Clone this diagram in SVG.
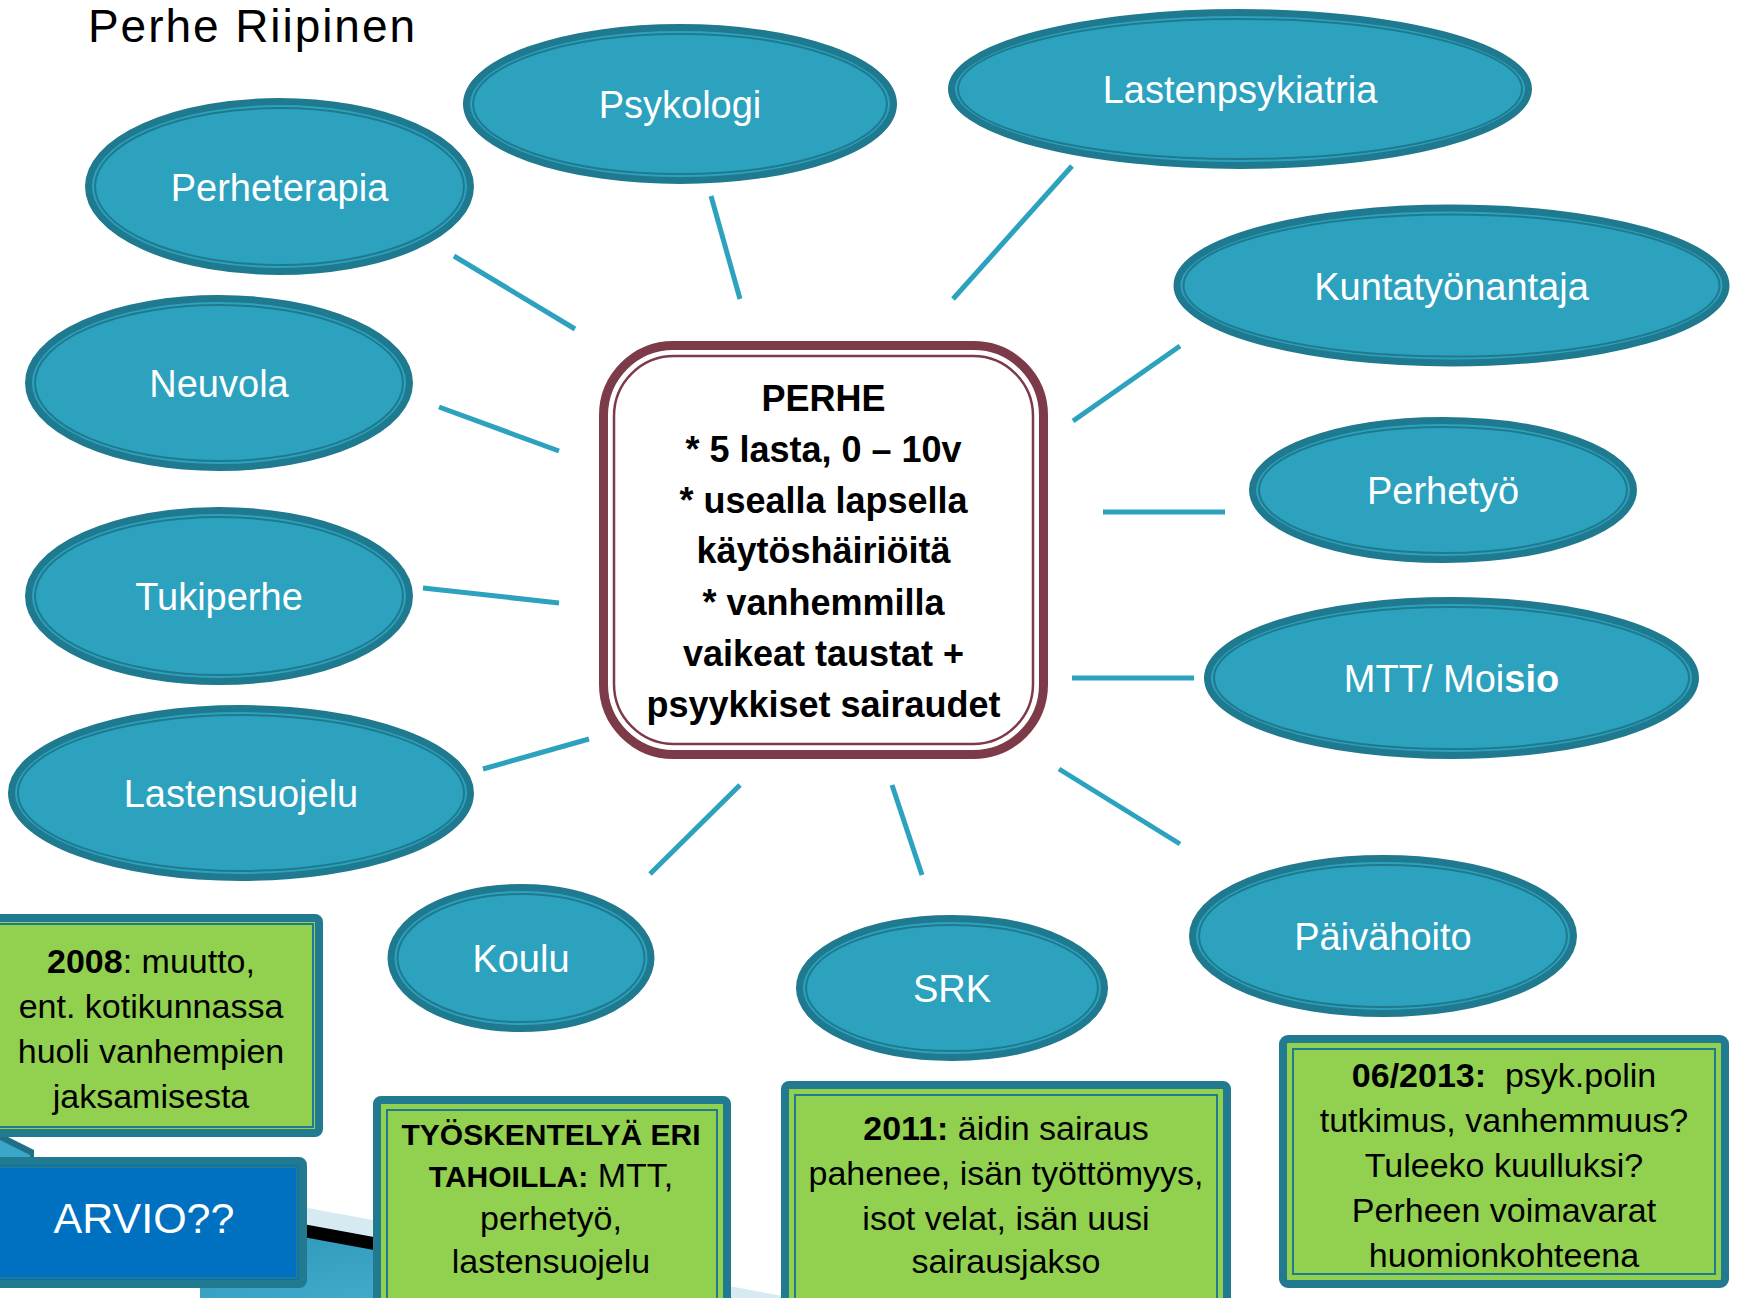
<svg xmlns="http://www.w3.org/2000/svg" width="1737" height="1298" viewBox="0 0 1737 1298">
<defs>
<style>
.eo{fill:#2ca2bf;stroke:#1f7a8f;stroke-width:7}
.ei{fill:none;stroke:#1f7a8f;stroke-width:2}
.el{font-family:"Liberation Sans",Arial,sans-serif;font-size:38px;fill:#ffffff;text-anchor:middle}
.con line{stroke:#2ca2bf;stroke-width:5;stroke-linecap:butt}
.gb{fill:#92d050;stroke:#217a90;stroke-width:8}
.gi{fill:none;stroke:#217a90;stroke-width:2}
.gt{font-family:"Liberation Sans",Arial,sans-serif;font-size:34px;fill:#000000;text-anchor:middle}
.b{font-weight:bold}
.ct{font-family:"Liberation Sans",Arial,sans-serif;font-size:36px;font-weight:bold;fill:#000000;text-anchor:middle}
</style>
<linearGradient id="swoosh" x1="0" y1="0" x2="1" y2="1">
<stop offset="0" stop-color="#2b93b8"/>
<stop offset="1" stop-color="#5ac2df"/>
</linearGradient>
</defs>
<rect x="0" y="0" width="1737" height="1298" fill="#ffffff"/>

<g id="decoration">
<polygon points="200,1188 820,1303 820,1310 200,1310" fill="#d6eaf1"/>
<polygon points="200,1205 820,1319 820,1330 200,1330" fill="#000000"/>
<polygon points="200,1218 820,1332 820,1340 200,1340" fill="url(#swoosh)"/>
<polygon points="0,1133 34,1150 34,1162 0,1162" fill="#1f6f86"/>
<polygon points="0,1140 30,1155 30,1162 0,1162" fill="#3aa6c8"/>
</g>

<text id="title" x="88" y="42" font-family="Liberation Sans, Arial, sans-serif" font-size="46" textLength="327" fill="#000000">Perhe Riipinen</text>

<g id="connectors" class="con">
<line x1="454" y1="256" x2="575" y2="329"/>
<line x1="711" y1="196" x2="740" y2="299"/>
<line x1="1072" y1="166" x2="953" y2="299"/>
<line x1="1180" y1="346" x2="1073" y2="421"/>
<line x1="439" y1="407" x2="559" y2="451"/>
<line x1="1103" y1="512" x2="1225" y2="512"/>
<line x1="423" y1="588" x2="559" y2="603"/>
<line x1="1072" y1="678" x2="1194" y2="678"/>
<line x1="483" y1="769" x2="589" y2="739"/>
<line x1="740" y1="785" x2="650" y2="874"/>
<line x1="892" y1="785" x2="922" y2="875"/>
<line x1="1059" y1="769" x2="1180" y2="844"/>
</g>

<g id="perhe">
<rect x="603.5" y="345.5" width="440" height="409" rx="70" fill="#ffffff" stroke="#7d3b49" stroke-width="9"/>
<rect x="614" y="356" width="419" height="388" rx="60" fill="none" stroke="#7d3b49" stroke-width="2.5"/>
<text class="ct" x="823.5" y="411">PERHE</text>
<text class="ct" x="823.5" y="462">* 5 lasta, 0 – 10v</text>
<text class="ct" x="823.5" y="513">* usealla lapsella</text>
<text class="ct" x="823.5" y="563">käytöshäiriöitä</text>
<text class="ct" x="823.5" y="615">* vanhemmilla</text>
<text class="ct" x="823.5" y="666">vaikeat taustat +</text>
<text class="ct" x="823.5" y="717">psyykkiset sairaudet</text>
</g>

<g id="psykologi">
<ellipse class="eo" cx="680" cy="104" rx="213.5" ry="76.5"/>
<ellipse class="ei" cx="680" cy="104" rx="207" ry="70"/>
<text class="el" x="680" y="118">Psykologi</text>
</g>
<g id="lastenpsykiatria">
<ellipse class="eo" cx="1240" cy="89" rx="288.5" ry="76.5"/>
<ellipse class="ei" cx="1240" cy="89" rx="282" ry="70"/>
<text class="el" x="1240" y="103">Lastenpsykiatria</text>
</g>
<g id="perheterapia">
<ellipse class="eo" cx="279.5" cy="186.5" rx="191" ry="85"/>
<ellipse class="ei" cx="279.5" cy="186.5" rx="184.5" ry="78.5"/>
<text class="el" x="279.5" y="200.5">Perheterapia</text>
</g>
<g id="kuntatyonantaja">
<ellipse class="eo" cx="1451.5" cy="285.5" rx="274.5" ry="77.5"/>
<ellipse class="ei" cx="1451.5" cy="285.5" rx="268" ry="71"/>
<text class="el" x="1451.5" y="300">Kuntatyönantaja</text>
</g>
<g id="neuvola">
<ellipse class="eo" cx="219" cy="383" rx="190.5" ry="84.5"/>
<ellipse class="ei" cx="219" cy="383" rx="184" ry="78"/>
<text class="el" x="219" y="397">Neuvola</text>
</g>
<g id="perhetyo">
<ellipse class="eo" cx="1443" cy="490" rx="190.5" ry="69.5"/>
<ellipse class="ei" cx="1443" cy="490" rx="184" ry="63"/>
<text class="el" x="1443" y="504">Perhetyö</text>
</g>
<g id="tukiperhe">
<ellipse class="eo" cx="219" cy="596" rx="190.5" ry="85.5"/>
<ellipse class="ei" cx="219" cy="596" rx="184" ry="79"/>
<text class="el" x="219" y="610">Tukiperhe</text>
</g>
<g id="mtt-moisio">
<ellipse class="eo" cx="1451.5" cy="678" rx="244" ry="77.5"/>
<ellipse class="ei" cx="1451.5" cy="678" rx="237.5" ry="71"/>
<text class="el" x="1451.5" y="692">MTT/ Moi<tspan class="b">sio</tspan></text>
</g>
<g id="lastensuojelu">
<ellipse class="eo" cx="241" cy="793" rx="229.5" ry="84.5"/>
<ellipse class="ei" cx="241" cy="793" rx="223" ry="78"/>
<text class="el" x="241" y="807">Lastensuojelu</text>
</g>
<g id="koulu">
<ellipse class="eo" cx="521" cy="958" rx="130" ry="70.5"/>
<ellipse class="ei" cx="521" cy="958" rx="123.5" ry="64"/>
<text class="el" x="521" y="972">Koulu</text>
</g>
<g id="srk">
<ellipse class="eo" cx="952" cy="988" rx="152.5" ry="69.5"/>
<ellipse class="ei" cx="952" cy="988" rx="146" ry="63"/>
<text class="el" x="952" y="1002">SRK</text>
</g>
<g id="paivahoito">
<ellipse class="eo" cx="1383" cy="936" rx="190.5" ry="77.5"/>
<ellipse class="ei" cx="1383" cy="936" rx="184" ry="71"/>
<text class="el" x="1383" y="950">Päivähoito</text>
</g>

<g id="box-2008">
<rect class="gb" x="-20" y="918" width="339" height="215" rx="4"/>
<rect class="gi" x="-10" y="924" width="323" height="203"/>
<text class="gt" x="151" y="973"><tspan class="b">2008</tspan>: muutto,</text>
<text class="gt" x="151" y="1018">ent. kotikunnassa</text>
<text class="gt" x="151" y="1063">huoli vanhempien</text>
<text class="gt" x="151" y="1108">jaksamisesta</text>
</g>

<g id="box-arvio">
<rect x="-20" y="1161" width="323" height="123" rx="4" fill="#0070c0" stroke="#217a90" stroke-width="8"/>
<rect x="-10" y="1167" width="307" height="111" fill="none" stroke="#217a90" stroke-width="2"/>
<text x="144" y="1233" font-family="Liberation Sans, Arial, sans-serif" font-size="43" fill="#ffffff" text-anchor="middle">ARVIO??</text>
</g>

<g id="box-tyoskentelya">
<rect class="gb" x="377" y="1100" width="350" height="250" rx="4"/>
<rect class="gi" x="387" y="1110" width="330" height="230"/>
<text class="gt" x="551" y="1145"><tspan class="b" font-size="30">TYÖSKENTELYÄ ERI</tspan></text>
<text class="gt" x="551" y="1187"><tspan class="b" font-size="30">TAHOILLA:</tspan> MTT,</text>
<text class="gt" x="551" y="1230">perhetyö,</text>
<text class="gt" x="551" y="1273">lastensuojelu</text>
</g>

<g id="box-2011">
<rect class="gb" x="785" y="1085" width="442" height="260" rx="4"/>
<rect class="gi" x="795" y="1095" width="422" height="240"/>
<text class="gt" x="1006" y="1140"><tspan class="b">2011:</tspan> äidin sairaus</text>
<text class="gt" x="1006" y="1185">pahenee, isän työttömyys,</text>
<text class="gt" x="1006" y="1230">isot velat, isän uusi</text>
<text class="gt" x="1006" y="1273">sairausjakso</text>
</g>

<g id="box-2013">
<rect class="gb" x="1283" y="1039" width="442" height="245" rx="5"/>
<rect class="gi" x="1293" y="1049" width="422" height="225"/>
<text class="gt" x="1504" y="1087"><tspan class="b">06/2013:</tspan>&#160; psyk.polin</text>
<text class="gt" x="1504" y="1132">tutkimus, vanhemmuus?</text>
<text class="gt" x="1504" y="1177">Tuleeko kuulluksi?</text>
<text class="gt" x="1504" y="1222">Perheen voimavarat</text>
<text class="gt" x="1504" y="1267">huomionkohteena</text>
</g>
</svg>
